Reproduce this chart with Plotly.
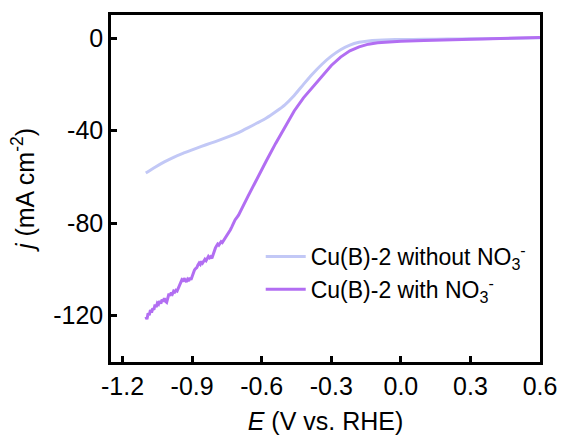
import plotly.graph_objects as go

# LSV curves of Cu(B)-2 with and without nitrate
E_without = [-1.10, -1.06, -1.02, -0.98, -0.94, -0.90, -0.86, -0.82, -0.78, -0.74,
             -0.70, -0.66, -0.62, -0.58, -0.54, -0.50, -0.46, -0.42, -0.38, -0.34,
             -0.30, -0.26, -0.22, -0.18, -0.14, -0.10, -0.05, 0.00, 0.10, 0.20,
             0.30, 0.40, 0.50, 0.60]
j_without = [-58.3, -55.8, -53.5, -51.5, -49.8, -48.3, -46.8, -45.4, -44.0, -42.5,
             -40.8, -38.8, -36.7, -34.5, -31.8, -28.8, -24.8, -20.0, -15.4, -11.3,
             -7.8, -5.0, -3.0, -1.8, -1.2, -0.9, -0.7, -0.6, -0.5, -0.4,
             -0.3, -0.2, -0.1, 0.2]

E_with = [-1.100, -1.095, -1.090, -1.085, -1.080, -1.075, -1.070, -1.065, -1.060, -1.055,
          -1.050, -1.045, -1.040, -1.035, -1.030, -1.025, -1.020, -1.015, -1.010, -1.005,
          -1.000, -0.995, -0.990, -0.985, -0.980, -0.975, -0.970, -0.965, -0.960, -0.955,
          -0.950, -0.945, -0.940, -0.935, -0.930, -0.925, -0.920, -0.915, -0.910, -0.905,
          -0.900, -0.895, -0.890, -0.885, -0.880, -0.875, -0.870, -0.865, -0.860, -0.855,
          -0.850, -0.845, -0.840, -0.835, -0.830, -0.825, -0.820, -0.815, -0.810, -0.805,
          -0.800, -0.795, -0.790, -0.785, -0.780, -0.775, -0.770, -0.765, -0.760, -0.755,
          -0.750, -0.745, -0.740, -0.735, -0.730, -0.725, -0.720, -0.715, -0.710, -0.705,
          -0.700, -0.66, -0.62, -0.58, -0.54, -0.50, -0.46, -0.42, -0.38, -0.34,
          -0.30, -0.26, -0.22, -0.18, -0.14, -0.10, -0.05, 0.00, 0.10, 0.20,
          0.30, 0.40, 0.50, 0.60]
j_with = [-120.5, -121.5, -119.0, -119.8, -117.5, -118.6, -116.8, -117.4, -115.2, -116.3,
          -114.5, -115.0, -113.6, -114.8, -113.0, -113.9, -112.4, -113.8, -114.2, -112.0,
          -110.5, -111.4, -110.0, -110.6, -109.4, -109.8, -109.0, -109.3, -108.2, -107.0,
          -105.8, -104.6, -105.2, -103.8, -104.6, -105.4, -104.3, -105.0, -103.6, -104.4,
          -103.0, -101.5, -100.2, -99.6, -99.2, -98.0, -97.2, -97.8, -96.5, -97.2,
          -96.0, -95.6, -96.2, -95.2, -94.4, -95.0, -94.5, -95.2, -93.5, -92.0,
          -90.8, -89.8, -89.0, -89.5, -88.8, -88.0, -88.4, -87.6, -87.2, -86.0,
          -85.0, -84.2, -83.5, -82.8, -81.8, -80.6, -79.8, -78.6, -77.9, -77.2,
          -76.5, -68.5, -60.5, -53.0, -45.5, -38.5, -31.5, -25.8, -21.0, -16.5,
          -11.8, -8.2, -5.5, -3.8, -2.6, -2.0, -1.6, -1.4, -1.0, -0.8,
          -0.5, -0.2, 0.0, 0.3]

x_ticks = [-1.2, -0.9, -0.6, -0.3, 0.0, 0.3, 0.6]
y_ticks = [0, -40, -80, -120]

FONT = "Liberation Sans, Arial, sans-serif"

fig = go.Figure()
fig.add_trace(go.Scatter(
    x=E_without, y=j_without, mode="lines",
    name="Cu(B)-2 without NO<sub>3</sub><sup>-</sup>",
    line=dict(color="#c2c8f6", width=3, shape="spline", smoothing=0.6),
))
fig.add_trace(go.Scatter(
    x=E_with, y=j_with, mode="lines",
    name="Cu(B)-2 with NO<sub>3</sub><sup>-</sup>",
    line=dict(color="#b26ef2", width=3),
))

axis_common = dict(
    showline=True, linecolor="black", linewidth=2.5, mirror=True,
    ticks="inside", ticklen=6, tickwidth=2.5, tickcolor="black",
    showgrid=False, zeroline=False,
    tickfont=dict(family=FONT, size=25, color="black"),
)

fig.update_layout(
    width=569, height=443,
    margin=dict(l=111, r=22, t=15, b=80),
    paper_bgcolor="white", plot_bgcolor="white",
    font=dict(family=FONT, size=24, color="black"),
    xaxis=dict(
        range=[-1.25, 0.6], tickvals=x_ticks,
        ticktext=[f"{v:.1f}" for v in x_ticks],
        title=dict(text="<i>E</i> (V vs. RHE)", font=dict(family=FONT, size=25), standoff=14),
        **axis_common,
    ),
    yaxis=dict(
        range=[-140, 10], tickvals=y_ticks,
        ticktext=[str(v) for v in y_ticks],
        title=dict(text="<i>j</i> (mA cm<sup>-2</sup>)", font=dict(family=FONT, size=25), standoff=12),
        **axis_common,
    ),
    legend=dict(
        x=0.349, y=0.366, xanchor="left", yanchor="top",
        bgcolor="rgba(0,0,0,0)", borderwidth=0,
        font=dict(family=FONT, size=23, color="black"),
        itemwidth=40,
    ),
    showlegend=True,
)

fig.write_html("out.html")
